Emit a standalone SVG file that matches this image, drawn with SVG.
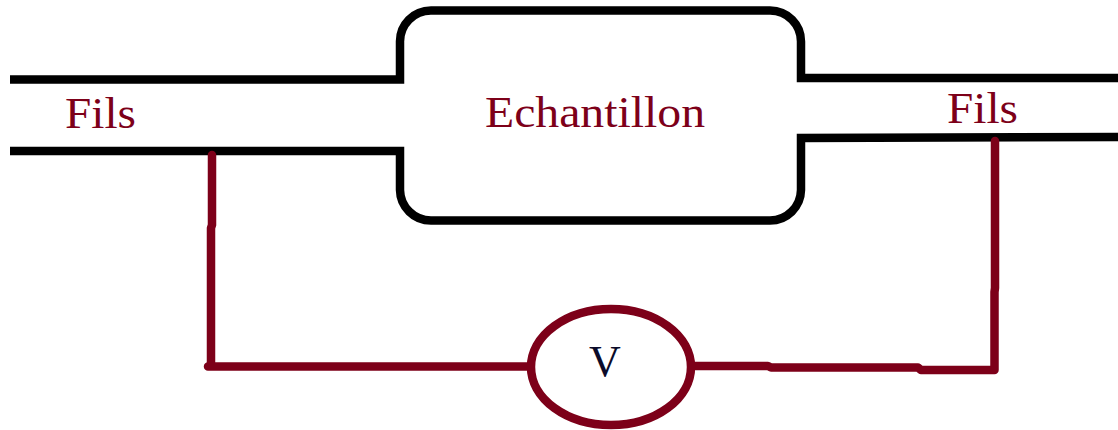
<svg xmlns="http://www.w3.org/2000/svg" width="1118" height="430" viewBox="0 0 1118 430">
<style>
.w{fill:none;stroke:#000;stroke-width:8.500}
.r{fill:none;stroke:#7d0019;stroke-width:8.500;stroke-linejoin:round;stroke-linecap:round}
text{font-family:"Liberation Serif","Times New Roman",serif;font-size:44px;fill:#7d0019}
</style>
<rect width="1118" height="430" fill="#fff"/>
<g id="echantillon">
<path class="w" d="M10 79.500H400V42A31 31 0 0 1 431 10.500H770A31 31 0 0 1 801 42V78H1118M10 151H400V190A31 31 0 0 0 431 220.500H770A31 31 0 0 0 801 190V138L1118 137"/>
<text x="485" y="126.500" textLength="220" lengthAdjust="spacingAndGlyphs">Echantillon</text>
</g>
<g id="fils-gauche"><text x="65" y="128" textLength="71" lengthAdjust="spacingAndGlyphs">Fils</text></g>
<g id="fils-droite"><text x="947" y="123" textLength="71" lengthAdjust="spacingAndGlyphs">Fils</text></g>
<g id="connectors">
<path class="r" d="M212 155V225L211 228V366M208 366.500H530"/>
<path class="r" d="M695 366H768L771 367.500H918L921 370H994.500V292L995 288V141"/>
</g>
<g id="voltmetre">
<ellipse class="r" cx="611" cy="367" rx="80" ry="58"/>
<text x="589" y="376" style="fill:#0b0b2a">V</text>
</g>
</svg>
